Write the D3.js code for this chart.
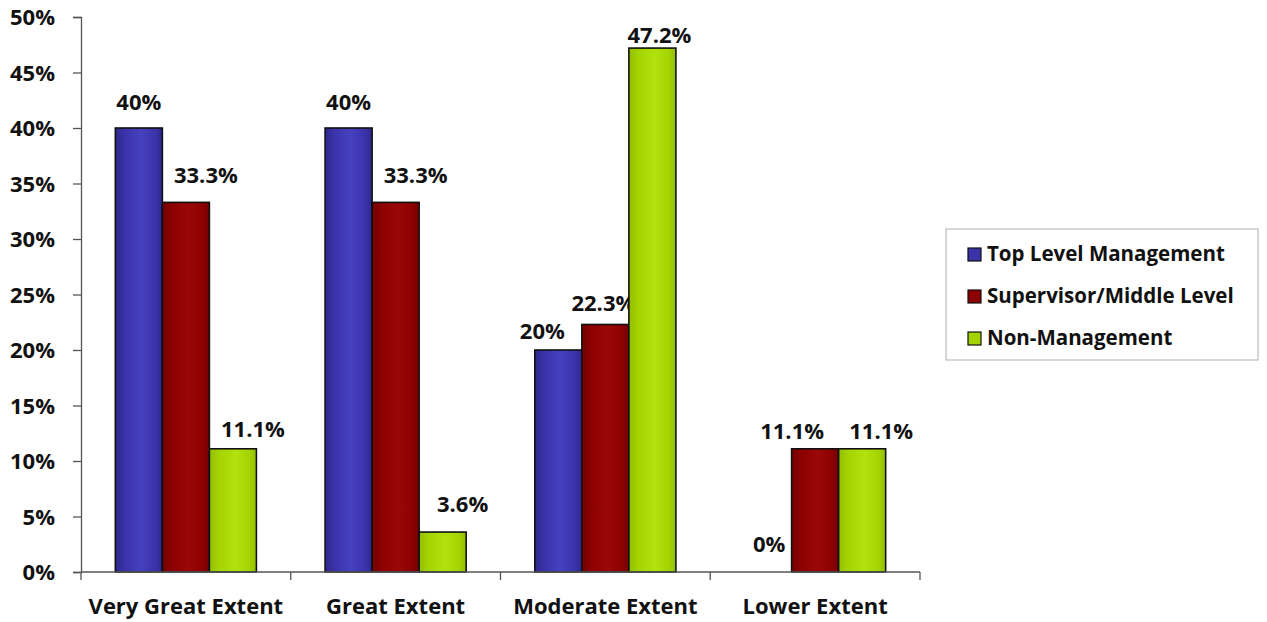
<!DOCTYPE html>
<html>
<head>
<meta charset="utf-8">
<script src="https://cdn.jsdelivr.net/npm/d3@7"></script>
<style>
  html, body { margin: 0; padding: 0; background: #fff; }
  svg { display: block; font-family: "Open Sans", Lato, sans-serif; font-weight: 700; }
</style>
</head>
<body>
<svg id="chart" width="1267" height="622"></svg>
<script>
// Survey results by extent category and staff level (percent)
const categories = ["Very Great Extent", "Great Extent", "Moderate Extent", "Lower Extent"];
const seriesNames = ["Top Level Management", "Supervisor/Middle Level", "Non-Management"];
const topLevel = [40, 40, 20, 0];
const supervisor = [33.3, 33.3, 22.3, 11.1];
const nonManagement = [11.1, 3.6, 47.2, 11.1];
const valueLabels = [
  ["40%", "40%", "20%", "0%"],
  ["33.3%", "33.3%", "22.3%", "11.1%"],
  ["11.1%", "3.6%", "47.2%", "11.1%"]
];
const yTicks = [0, 5, 10, 15, 20, 25, 30, 35, 40, 45, 50];

// Label placement nudges (dx, gap above bar top) per series / category
const labelNudge = [
  [[0, 18], [0, 18], [-16, 11], [1, 20]],
  [[20, 19], [20, 19], [-2, 13], [-23, 10]],
  [[20, 12], [20, 20], [7, 5], [19, 10]]
];

const seriesValues = [topLevel, supervisor, nonManagement];
const colors = [
  { base: "#3a33aa", light: "#4641c0", dark: "#2c288c" },
  { base: "#8c0101", light: "#9c0707", dark: "#740000" },
  { base: "#a4d400", light: "#b2e20e", dark: "#92be00" }
];

const svg = d3.select("#chart");
const margin = { left: 81, right: 347, top: 17, bottom: 50 };
const W = 1267, H = 622;
const plotW = W - margin.left - margin.right;
const plotH = H - margin.top - margin.bottom;

const x = d3.scaleBand().domain(categories).range([margin.left, margin.left + plotW]).paddingInner(0).paddingOuter(0);
const xs = d3.scaleBand().domain(d3.range(seriesNames.length)).range([0, x.bandwidth()]).paddingInner(0).paddingOuter(0.73);
const y = d3.scaleLinear().domain([0, 50]).range([margin.top + plotH, margin.top]);

// Gradients for the bar fills
const defs = svg.append("defs");
colors.forEach((c, i) => {
  const g = defs.append("linearGradient").attr("id", "grad" + i).attr("x1", "0").attr("x2", "1").attr("y1", "0").attr("y2", "0");
  g.append("stop").attr("offset", "0%").attr("stop-color", c.dark);
  g.append("stop").attr("offset", "20%").attr("stop-color", c.base);
  g.append("stop").attr("offset", "55%").attr("stop-color", c.light);
  g.append("stop").attr("offset", "85%").attr("stop-color", c.base);
  g.append("stop").attr("offset", "100%").attr("stop-color", c.dark);
});

// Y axis
const yAxis = d3.axisLeft(y).tickValues(yTicks).tickFormat(d => d + "%").tickSize(8).tickSizeOuter(8);
const yg = svg.append("g").attr("transform", `translate(${margin.left},0)`).call(yAxis);
yg.select(".domain").attr("stroke", "#555").attr("stroke-width", 1.3);
yg.selectAll(".tick line").attr("stroke", "#555").attr("stroke-width", 1.3);
yg.selectAll(".tick text").attr("font-size", 22).attr("font-weight", 700).attr("fill", "#111")
  .attr("font-family", "'Open Sans', sans-serif").attr("x", -26).attr("dy", "0.36em");

// Bars
const groups = svg.append("g").selectAll("g").data(categories).join("g")
  .attr("transform", d => `translate(${x(d)},0)`);

seriesValues.forEach((vals, si) => {
  groups.append("rect")
    .attr("x", (d, ci) => xs(si))
    .attr("width", xs.bandwidth())
    .attr("y", (d, ci) => y(vals[ci]))
    .attr("height", (d, ci) => y(0) - y(vals[ci]))
    .attr("fill", `url(#grad${si})`)
    .attr("stroke", "#111")
    .attr("stroke-width", 1.6)
    .attr("display", (d, ci) => vals[ci] > 0 ? null : "none");

  groups.append("text")
    .attr("x", (d, ci) => xs(si) + xs.bandwidth() / 2 + labelNudge[si][ci][0])
    .attr("y", (d, ci) => y(vals[ci]) - labelNudge[si][ci][1])
    .attr("text-anchor", "middle")
    .attr("font-size", 22)
    .attr("fill", "#111")
    .text((d, ci) => valueLabels[si][ci]);
});

// X axis
const xAxisG = svg.append("g").attr("transform", `translate(0,${y(0)})`);
xAxisG.append("line").attr("x1", margin.left).attr("x2", margin.left + plotW)
  .attr("stroke", "#555").attr("stroke-width", 1.3);
const bounds = categories.map(c => x(c)).concat([x(categories[categories.length - 1]) + x.bandwidth()]);
xAxisG.selectAll("line.tk").data(bounds).join("line").attr("class", "tk")
  .attr("x1", d => d).attr("x2", d => d).attr("y1", 0).attr("y2", 8)
  .attr("stroke", "#555").attr("stroke-width", 1.3);
xAxisG.selectAll("text").data(categories).join("text")
  .attr("x", d => x(d) + x.bandwidth() / 2)
  .attr("y", 42)
  .attr("text-anchor", "middle")
  .attr("font-size", 22)
  .attr("fill", "#111")
  .text(d => d);

// Legend
const lg = svg.append("g").attr("transform", "translate(946,229)");
lg.append("rect").attr("width", 312).attr("height", 131).attr("fill", "#fff")
  .attr("stroke", "#bbb").attr("stroke-width", 1.2);
seriesNames.forEach((name, i) => {
  const row = lg.append("g").attr("transform", `translate(22,${25 + i * 42})`);
  row.append("rect").attr("x", 0).attr("y", -6).attr("width", 13).attr("height", 13)
    .attr("fill", colors[i].base).attr("stroke", "#111").attr("stroke-width", 1.2);
  row.append("text").attr("x", 19).attr("y", 0).attr("dy", "0.36em")
    .attr("font-size", 20.5).attr("fill", "#111").text(name);
});
</script>
</body>
</html>
